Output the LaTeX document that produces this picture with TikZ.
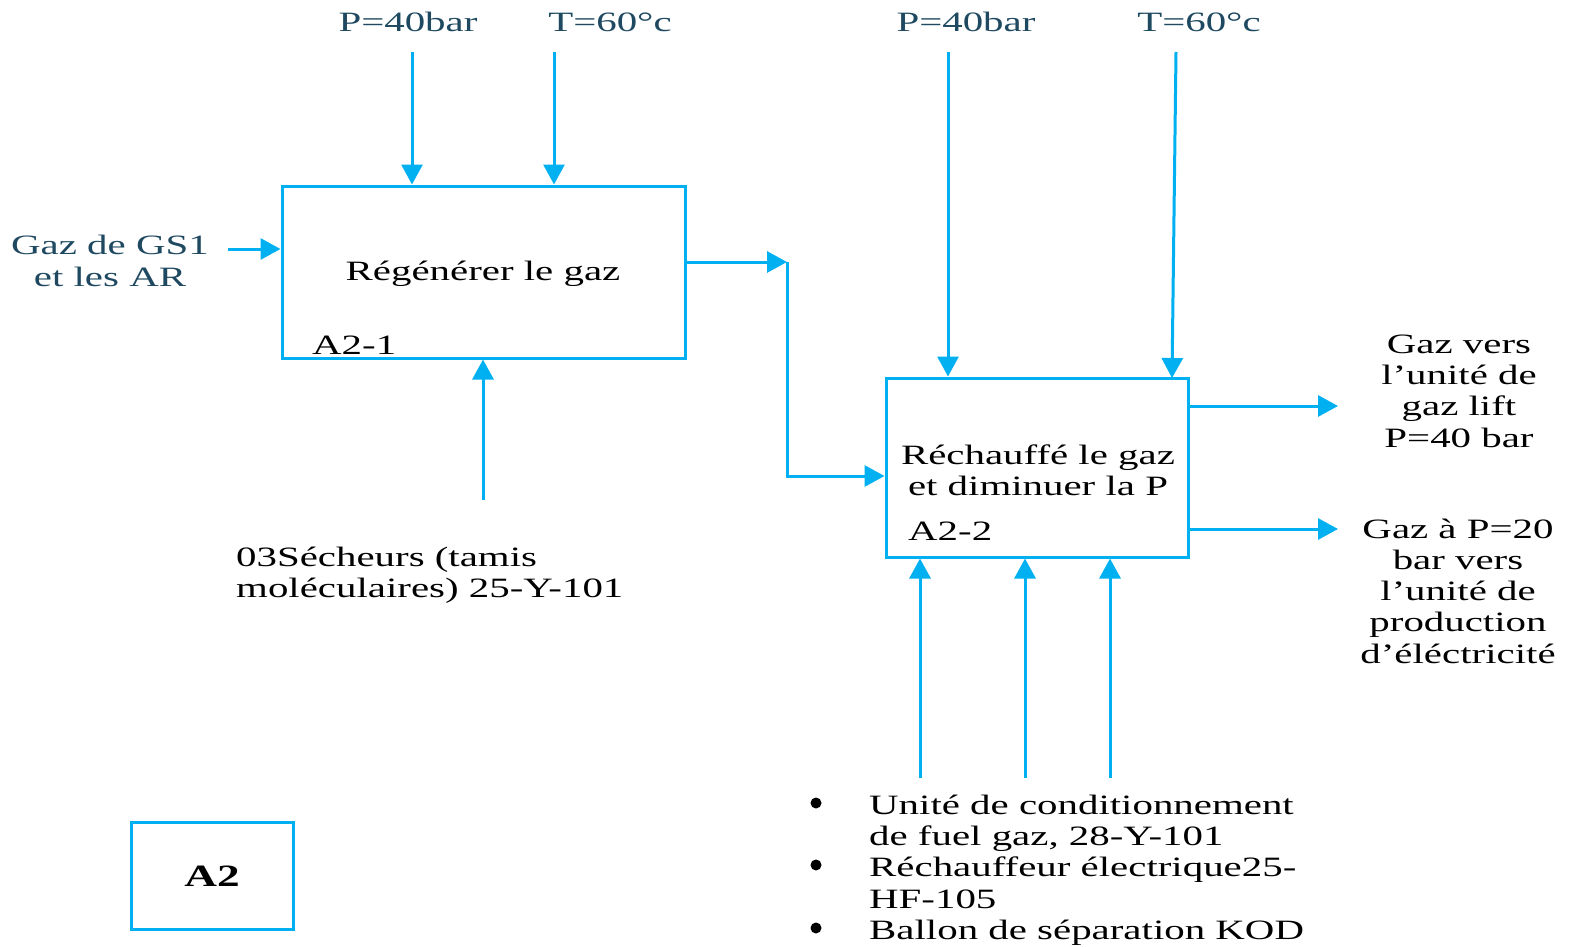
\documentclass[tikz,border=0pt]{standalone}
\usepackage{fontspec}
\setmainfont[FakeStretch=1.46]{Liberation Serif}
\usetikzlibrary{arrows.meta}
\definecolor{flow}{HTML}{00B0F0}
\definecolor{labelblue}{RGB}{31,73,96}
\begin{document}
\begin{tikzpicture}[x=1pt,y=-1pt,
  every node/.style={inner sep=0pt, font=\fontsize{28}{31.3}\selectfont},
  actbox/.style={draw=flow, line width=3pt, minimum width=#1},
  arr/.style={draw=flow, line width=3pt, -{Triangle[length=20pt,width=21pt]}},
  plain/.style={draw=flow, line width=3pt},
  inlabel/.style={text=labelblue},
  dot/.style={circle, fill=black, minimum size=11pt}]
\useasboundingbox (0,0) rectangle (1573,947);

% activity boxes
\node[actbox=403pt, minimum height=172pt] (box1) at (483.5,272) {};
\node (t1) at (483,274) {Régénérer le gaz};
\node[anchor=west] (id1) at (312,345) {A2-1};
\node[actbox=302pt, minimum height=179pt] (box2) at (1037,467.5) {};
\node[align=center] (t2) at (1038,470) {Réchauffé le gaz\\et diminuer la P};
\node[anchor=west] (id2) at (908,531) {A2-2};
\node[actbox=162pt, minimum height=107pt, font=\fontsize{31}{34}\selectfont\bfseries] (a2) at (212,876) {A2};

% controls on top
\node[inlabel] (c1) at (408,22) {P=40bar};
\node[inlabel] (c2) at (610,22) {T=60°c};
\node[inlabel] (c3) at (966,22) {P=40bar};
\node[inlabel] (c4) at (1199,22) {T=60°c};
\coordinate (c1s) at (412,52);
\coordinate (c2s) at (554,52);
\coordinate (c3s) at (948,52);
\coordinate (c4s) at (1176,52);
\coordinate (c4e) at (1172,378);
\draw[arr] (c1s) -- (c1s |- box1.north);
\draw[arr] (c2s) -- (c2s |- box1.north);
\draw[arr] (c3s) -- (c3s |- box2.north);
\draw[arr] (c4s) -- (c4e);

% input
\node[inlabel, align=center] (in1) at (110,261) {Gaz de GS1\\et les AR};
\coordinate (ins) at (228,249);
\draw[arr] (ins) -- (ins -| box1.west);

% link between the two activities
\coordinate (j1) at (787,262);
\coordinate (j2) at (787,476);
\draw[arr] (box1.east |- j1) -- (j1);
\draw[arr] (j1) -- (j2) -- (j2 -| box2.west);

% outputs
\node[align=center] (o1) at (1459,391) {Gaz vers\\l’unité de\\gaz lift\\P=40 bar};
\node[align=center] (o2) at (1458,591) {Gaz à P=20\\bar vers\\l’unité de\\production\\d’éléctricité};
\coordinate (o1e) at (1338,406);
\coordinate (o2e) at (1338,529);
\draw[arr] (o1e -| box2.east) -- (o1e);
\draw[arr] (o2e -| box2.east) -- (o2e);

% mechanisms
\node[anchor=west, align=left] (m1) at (236,575) {03Sécheurs (tamis\\moléculaires) 25-Y-101};
\coordinate (m1s) at (483,500);
\draw[arr] (m1s) -- (m1s |- box1.south);

\node[anchor=west, align=left] (m2) at (869,870)
  {Unité de conditionnement\\de fuel gaz, 28-Y-101\\Réchauffeur électrique25-\\HF-105\\Ballon de séparation KOD};
\node[dot] (b1) at (816,803) {};
\node[dot] (b2) at (816,865) {};
\node[dot] (b3) at (816,928) {};
\coordinate (m2a) at (920,778);
\coordinate (m2b) at (1025,778);
\coordinate (m2c) at (1110,778);
\draw[arr] (m2a) -- (m2a |- box2.south);
\draw[arr] (m2b) -- (m2b |- box2.south);
\draw[arr] (m2c) -- (m2c |- box2.south);
\end{tikzpicture}
\end{document}
